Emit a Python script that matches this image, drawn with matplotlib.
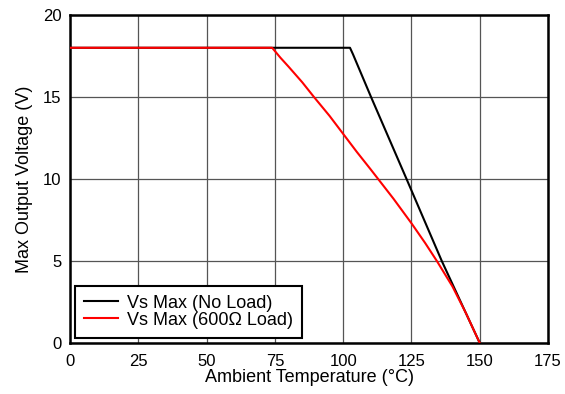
import matplotlib
matplotlib.use("Agg")
import matplotlib.pyplot as plt

plt.rcParams['font.family'] = ['Liberation Sans', 'DejaVu Sans']

# Data
temp_noload = [0, 102.5, 103.6, 110.2, 123.2, 136.1, 150.0]
vs_noload = [18, 18, 17.6, 15.0, 10.0, 5.0, 0.0]

temp_600 = [0, 74, 77, 80, 85, 89.3, 95, 100, 105, 110, 113.5, 118.4, 125,
            130, 134.3, 140, 145, 150]
vs_600 = [18, 18, 17.4, 16.85, 15.9, 15.0, 13.85, 12.75, 11.65, 10.6, 9.85, 8.8, 7.3,
          6.1, 5.0, 3.45, 1.8, 0.0]

xticks = [0, 25, 50, 75, 100, 125, 150, 175]
yticks = [0, 5, 10, 15, 20]

FS = 13
TFS = 12

fig = plt.figure(figsize=(5.65, 3.94), dpi=100)
ax = fig.add_axes([0.1239, 0.1294, 0.8461, 0.8326])

ax.plot(temp_noload, vs_noload, color='black', lw=1.5, label='Vs Max (No Load)', zorder=3)
ax.plot(temp_600, vs_600, color='#ff0000', lw=1.5, label='Vs Max (600Ω Load)', zorder=3)

ax.set_xlim(0, 175)
ax.set_ylim(0, 20)
ax.set_xticks(xticks)
ax.set_yticks(yticks)
ax.grid(True, color='#555555', lw=0.9)
ax.tick_params(length=0, labelsize=TFS)
ax.tick_params(axis='x', pad=8)
ax.tick_params(axis='y', pad=6)
for s in ax.spines.values():
    s.set_linewidth(1.8)
    s.set_color('black')

ax.set_xlabel('Ambient Temperature (°C)', fontsize=FS, labelpad=0)
ax.set_ylabel('Max Output Voltage (V)', fontsize=FS, labelpad=7)

leg = ax.legend(loc='lower left', fontsize=FS, fancybox=False, framealpha=1,
                edgecolor='black', borderpad=0.5, handlelength=1.85,
                handletextpad=0.5, borderaxespad=0.3, labelspacing=0.0)
leg.get_frame().set_linewidth(1.5)

fig.savefig('out.png', dpi=100)
